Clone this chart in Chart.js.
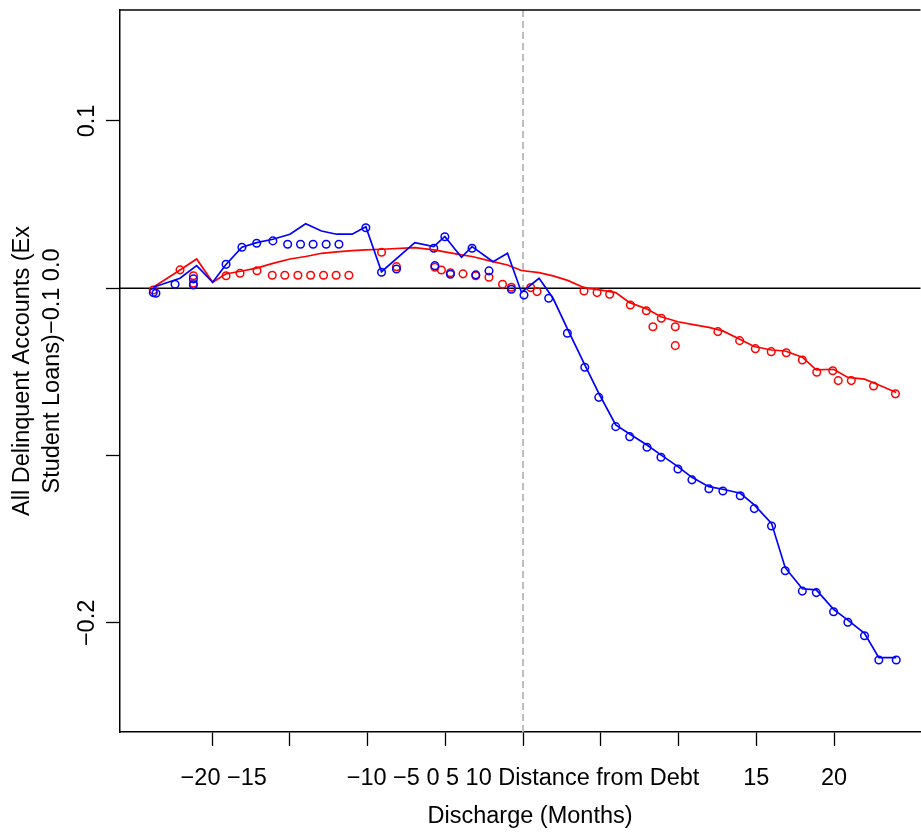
<!DOCTYPE html>
<html>
<head>
<meta charset="utf-8">
<script src="https://cdn.jsdelivr.net/npm/chart.js@4/dist/chart.umd.min.js"></script>
<style>
    html, body { margin: 0; padding: 0; background: #fff; overflow: hidden; }
    /* slightly wider than the window: the plot box runs off the right edge in the original */
    #wrap { width: 926px; height: 834px; }
</style>
</head>
<body>
<div id="wrap"><canvas id="chart"></canvas></div>
<script>
// Fitted lines (months from debt discharge)
const lineMonths = [-23.78, -22.06, -20.99, -19.96, -19.13, -18.08, -17.13, -16.09, -14.99, -13.98,
    -12.96, -11.99, -10.99, -10.11, -9.10, -6.96, -5.74, -5.03, -3.96, -3.28,
    -1.93, -1.00, -0.10, 1.03, 1.93, 2.87, 3.97, 4.93, 5.96, 6.86,
    7.97, 8.87, 9.96, 10.86, 11.95, 12.85, 13.97, 14.87, 15.98, 16.86,
    17.96, 18.86, 19.97, 20.89, 21.96, 22.88, 24.00];
const blueLine = [0.0006, 0.0060, 0.0135, 0.0036, 0.0139, 0.0245, 0.0273, 0.0293, 0.0323, 0.0386,
    0.0342, 0.0323, 0.0323, 0.0368, 0.0099, 0.0273, 0.0249, 0.0310, 0.0185, 0.0249,
    0.0159, 0.0209, -0.0025, 0.0060, -0.0060, -0.0246, -0.0458, -0.0638, -0.0817, -0.0871,
    -0.0937, -0.0996, -0.1066, -0.1130, -0.1186, -0.1201, -0.1225, -0.1295, -0.1405, -0.1670,
    -0.1796, -0.1803, -0.1919, -0.1983, -0.2062, -0.2208, -0.2208];
const redLine = [0.0006, 0.0109, 0.0175, 0.0036, 0.0085, 0.0103, 0.0120, 0.0149, 0.0175, 0.0190,
    0.0209, 0.0217, 0.0225, 0.0229, 0.0233, 0.0243, 0.0229, 0.0217, 0.0199, 0.0190,
    0.0159, 0.0139, 0.0106, 0.0093, 0.0074, 0.0047, 0.0002, -0.0010, -0.0026, -0.0086,
    -0.0124, -0.0170, -0.0200, -0.0216, -0.0234, -0.0255, -0.0306, -0.0348, -0.0369, -0.0375,
    -0.0412, -0.0488, -0.0484, -0.0533, -0.0543, -0.0578, -0.0623];

// Raw estimates (circles)
const redPtX = [-23.78, -22.06, -21.2, -21.2, -19.1, -18.2, -17.11, -16.13, -15.32, -14.48,
    -13.66, -12.83, -12.02, -11.20, -9.10, -8.14, -5.67, -5.25, -4.67, -3.86,
    -3.04, -2.19, -1.32, -0.75, 0.49, 0.90, 3.92, 4.76, 5.57, 6.90,
    7.93, 8.35, 8.89, 9.79, 9.79, 12.53, 13.93, 14.94, 15.96, 16.93,
    17.96, 18.89, 19.92, 20.27, 21.11, 22.54, 23.95];
const redPtY = [-0.0010, 0.0110, 0.0075, 0.0030, 0.0075, 0.0090, 0.0105, 0.0078, 0.0078, 0.0078,
    0.0078, 0.0078, 0.0078, 0.0078, 0.0215, 0.0129, 0.0126, 0.0109, 0.0093, 0.0086,
    0.0075, 0.0066, 0.0024, 0.0006, 0.0004, -0.0020, -0.0016, -0.0026, -0.0036, -0.0100,
    -0.0134, -0.0230, -0.0179, -0.0230, -0.0343, -0.0259, -0.0313, -0.0361, -0.0379, -0.0385,
    -0.0429, -0.0502, -0.0493, -0.0552, -0.0552, -0.0584, -0.0631];
const bluePtX = [-23.78, -23.61, -22.38, -21.2, -21.2, -19.1, -18.08, -17.13, -16.09, -15.14,
    -14.31, -13.50, -12.66, -11.84, -10.11, -9.10, -8.14, -5.74, -5.67, -5.03,
    -4.67, -3.28, -3.04, -2.19, -0.75, 0.06, 1.65, 2.85, 3.97, 4.87,
    5.96, 6.86, 7.97, 8.87, 9.96, 10.86, 11.95, 12.85, 13.97, 14.87,
    15.98, 16.86, 17.96, 18.86, 19.97, 20.89, 21.96, 22.88, 24.00];
const bluePtY = [-0.0026, -0.0030, 0.0024, 0.0056, 0.0020, 0.0143, 0.0245, 0.0269, 0.0283, 0.0263,
    0.0263, 0.0263, 0.0263, 0.0263, 0.0362, 0.0096, 0.0115, 0.0239, 0.0135, 0.0308,
    0.0084, 0.0239, 0.0080, 0.0104, -0.0006, -0.0040, -0.0060, -0.0269, -0.0472, -0.0652,
    -0.0827, -0.0887, -0.0950, -0.1010, -0.1080, -0.1145, -0.1198, -0.1212, -0.1240, -0.1317,
    -0.1421, -0.1688, -0.1810, -0.1819, -0.1933, -0.1996, -0.2077, -0.2222, -0.2222];

// Axis ticks and labels (as printed on the original)
const xTickMarks = [-20, -15, -10, -5, 0, 5, 10, 15, 20];
const xLabelAt = [-19.25, 0, 15, 20];
const xLabelText = ['\u221220 \u221215', '\u221210 \u22125 0 5 10 Distance from Debt', '15', '20'];
const yTickMarks = [-0.2, -0.1, 0, 0.1];
const yTickText = ['\u22120.2', '', '', '0.1'];
const xTitle = 'Discharge (Months)';
const yTitle = ['All Delinquent Accounts (Ex', 'Student Loans)\u22120.1 0.0'];

const FONT = { family: '"Liberation Sans", Arial, sans-serif', size: 23.5 };
const toXY = (xs, ys) => xs.map((x, i) => ({ x: x, y: ys[i] }));

// Reference lines + box top
const refLines = {
    id: 'refLines',
    beforeDatasetsDraw(chart) {
        const { ctx, chartArea, scales } = chart;
        const x0 = scales.x.getPixelForValue(0);
        const y0 = scales.y.getPixelForValue(0);
        ctx.save();
        ctx.strokeStyle = '#bebebe';
        ctx.lineWidth = 2;
        ctx.setLineDash([7, 4]);
        ctx.beginPath();
        ctx.moveTo(x0, chartArea.top);
        ctx.lineTo(x0, chartArea.bottom);
        ctx.stroke();
        ctx.setLineDash([]);
        ctx.strokeStyle = '#000';
        ctx.lineWidth = 1.6;
        ctx.beginPath();
        ctx.moveTo(chartArea.left, y0);
        ctx.lineTo(chartArea.right, y0);
        ctx.stroke();
        ctx.restore();
    },
    afterDraw(chart) {
        const { ctx, chartArea } = chart;
        ctx.save();
        ctx.strokeStyle = '#000';
        ctx.lineWidth = 1.5;
        ctx.beginPath();
        ctx.moveTo(chartArea.left, chartArea.top);
        ctx.lineTo(chartArea.right, chartArea.top);
        ctx.stroke();
        ctx.restore();
    }
};

const circles = (label, xs, ys, color) => ({
    label, data: toXY(xs, ys), showLine: false, order: 2,
    pointStyle: 'circle', pointRadius: 3.8, pointBorderWidth: 1.5,
    pointBorderColor: color, pointBackgroundColor: 'rgba(0,0,0,0)'
});
const fitted = (label, ys, color) => ({
    label, data: toXY(lineMonths, ys), showLine: true, order: 1,
    borderColor: color, borderWidth: 1.7, pointRadius: 0, tension: 0, fill: false
});

new Chart(document.getElementById('chart'), {
    type: 'scatter',
    data: {
        datasets: [
            fitted('Blue fit', blueLine, '#0000ff'),
            fitted('Red fit', redLine, '#ff0000'),
            circles('Blue', bluePtX, bluePtY, '#0000ff'),
            circles('Red', redPtX, redPtY, '#ff0000')
        ]
    },
    options: {
        responsive: true,
        maintainAspectRatio: false,
        animation: false,
        devicePixelRatio: 1,
        layout: { padding: { top: 10, right: 0, left: 0, bottom: 0 } },
        plugins: { legend: { display: false }, tooltip: { enabled: false } },
        scales: {
            x: {
                type: 'linear', position: 'bottom', min: -25.92, max: 25.56,
                afterFit: (s) => { s.height = 102; s.paddingLeft = 0; s.paddingRight = 0; },
                afterBuildTicks: (s) => {
                    const vals = xTickMarks.concat(xLabelAt).filter((v, i, a) => a.indexOf(v) === i);
                    s.ticks = vals.sort((a, b) => a - b).map(v => ({ value: v }));
                },
                ticks: {
                    autoSkip: false, maxRotation: 0, minRotation: 0, padding: 18,
                    color: '#000', font: FONT,
                    callback: (v) => { const i = xLabelAt.indexOf(v); return i >= 0 ? xLabelText[i] : ''; }
                },
                grid: {
                    drawOnChartArea: false, tickLength: 14, tickWidth: 1.3,
                    tickColor: (c) => (c.tick && xTickMarks.includes(c.tick.value)) ? '#000' : 'rgba(0,0,0,0)'
                },
                border: { color: '#000', width: 1.5 },
                title: { display: true, text: '\u00a0\u00a0\u00a0' + xTitle, color: '#000', font: FONT, padding: { top: 0, bottom: 3 } }
            },
            y: {
                type: 'linear', position: 'left', min: -0.2652, max: 0.1663,
                afterFit: (s) => { s.width = 120; s.paddingTop = 0; s.paddingBottom = 0; },
                afterBuildTicks: (s) => { s.ticks = yTickMarks.map(v => ({ value: v })); },
                ticks: {
                    minRotation: 90, maxRotation: 90, crossAlign: 'center', padding: -5,
                    color: '#000', font: FONT,
                    callback: (v) => { const i = yTickMarks.indexOf(v); return i >= 0 ? yTickText[i] : ''; }
                },
                grid: { drawOnChartArea: false, tickLength: 14, tickWidth: 1.3, tickColor: '#000' },
                border: { color: '#000', width: 1.5 },
                title: { display: true, text: yTitle, color: '#000', font: Object.assign({}, FONT, { lineHeight: 30 / 23.5 }), padding: { top: 8, bottom: 0 } }
            }
        }
    },
    plugins: [refLines]
});
</script>
</body>
</html>
